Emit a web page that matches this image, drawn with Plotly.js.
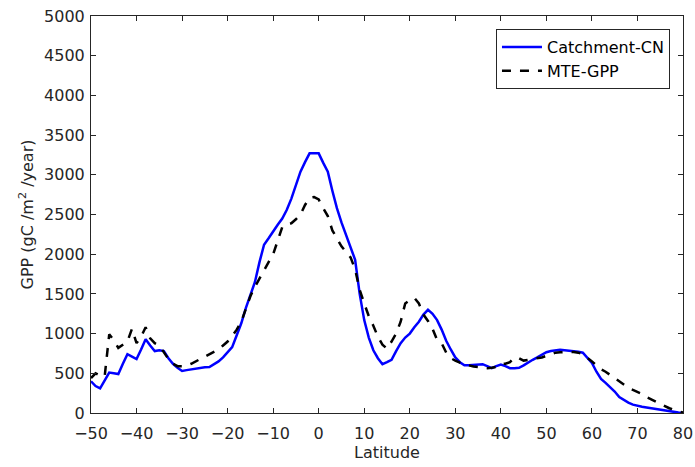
<!DOCTYPE html>
<html>
<head>
<meta charset="utf-8">
<script src="https://cdn.plot.ly/plotly-3.0.1.min.js"></script>
<style>html,body{margin:0;padding:0;background:#fff;}#chart{width:695px;height:467px;}</style>
</head>
<body>
<div id="chart"></div>
<script>
const latitude = [];
for (let v = -50; v <= 80; v++) latitude.push(v);

const catchmentCN = [
 400,340,310,420,510,500,490,620,740,710,
 680,800,930,850,780,790,780,690,620,570,
 530,540,550,560,570,575,580,610,650,700,
 760,830,980,1130,1320,1500,1650,1900,2120,2200,
 2290,2370,2450,2560,2700,2870,3040,3160,3270,3270,
 3270,3150,3040,2800,2580,2400,2250,2100,1930,1500,
 1170,950,790,690,615,640,670,780,880,950,
 1000,1080,1150,1240,1300,1250,1170,1050,910,800,
 700,640,600,600,605,610,615,590,565,590,
 610,590,565,565,570,600,640,670,700,730,
 765,780,790,795,790,785,780,770,760,700,
 630,520,430,380,330,270,200,160,130,105,
 90,80,70,60,50,40,30,20,10,5,
 0
];

const mteGPP = [
 440,500,470,460,990,920,820,860,900,1060,
 880,960,1080,940,880,850,760,680,620,590,
 590,595,620,650,680,700,730,760,800,850,
 900,970,1050,1150,1300,1470,1590,1700,1800,1900,
 2000,2170,2340,2380,2390,2440,2500,2620,2710,2720,
 2690,2580,2480,2300,2200,2100,2030,1960,1810,1550,
 1380,1220,1100,960,860,810,900,1000,1150,1380,
 1420,1450,1380,1240,1160,1060,920,880,760,690,
 660,630,610,600,585,580,570,565,570,580,
 620,620,640,700,690,660,670,680,690,700,
 720,740,760,765,770,770,768,760,740,700,
 650,600,550,520,480,430,400,360,320,290,
 270,240,200,170,140,110,90,60,40,20,
 5
];

const xTicks = [-50,-40,-30,-20,-10,0,10,20,30,40,50,60,70,80];
const yTicks = [0,500,1000,1500,2000,2500,3000,3500,4000,4500,5000];

const traces = [
  {x: latitude, y: catchmentCN, name: 'Catchment-CN', type: 'scatter', mode: 'lines',
   line: {color: '#0000ff', width: 2.5}},
  {x: latitude, y: mteGPP, name: 'MTE-GPP', type: 'scatter', mode: 'lines',
   line: {color: '#000000', width: 2.5, dash: 'dash'}}
];

const FONT = 'DejaVu Sans, sans-serif';
const axisCommon = {
  showgrid: false, zeroline: false, showline: true, linecolor: '#262626', linewidth: 1,
  mirror: 'allticks', ticks: 'inside', ticklen: 5, tickcolor: '#262626',
  tickfont: {family: FONT, size: 16, color: '#262626'}
};

const layout = {
  width: 695, height: 467,
  margin: {l: 91, r: 12, t: 16, b: 54},
  paper_bgcolor: '#ffffff', plot_bgcolor: '#ffffff',
  showlegend: true,
  legend: {x: 0.978, y: 0.967, xanchor: 'right', yanchor: 'top',
    bgcolor: '#ffffff', bordercolor: '#262626', borderwidth: 1,
    font: {family: FONT, size: 16, color: '#000000'},
    tracegroupgap: 0, itemwidth: 40},
  xaxis: Object.assign({}, axisCommon, {range: [-50, 80], tickvals: xTicks,
    ticktext: xTicks.map(v => v < 0 ? '\u2212' + Math.abs(v) : String(v)),
    ticklabelstandoff: 6,
    title: {text: 'Latitude', font: {family: FONT, size: 16, color: '#262626'}, standoff: 2}}),
  yaxis: Object.assign({}, axisCommon, {range: [0, 5000], tickvals: yTicks, ticktext: yTicks.map(String),
    ticklabelstandoff: 2,
    title: {text: 'GPP (gC /m<sup>2</sup> /year)', font: {family: FONT, size: 16, color: '#262626'}, standoff: 6}})
};

Plotly.newPlot('chart', traces, layout, {displayModeBar: false, staticPlot: true});
</script>
</body>
</html>
